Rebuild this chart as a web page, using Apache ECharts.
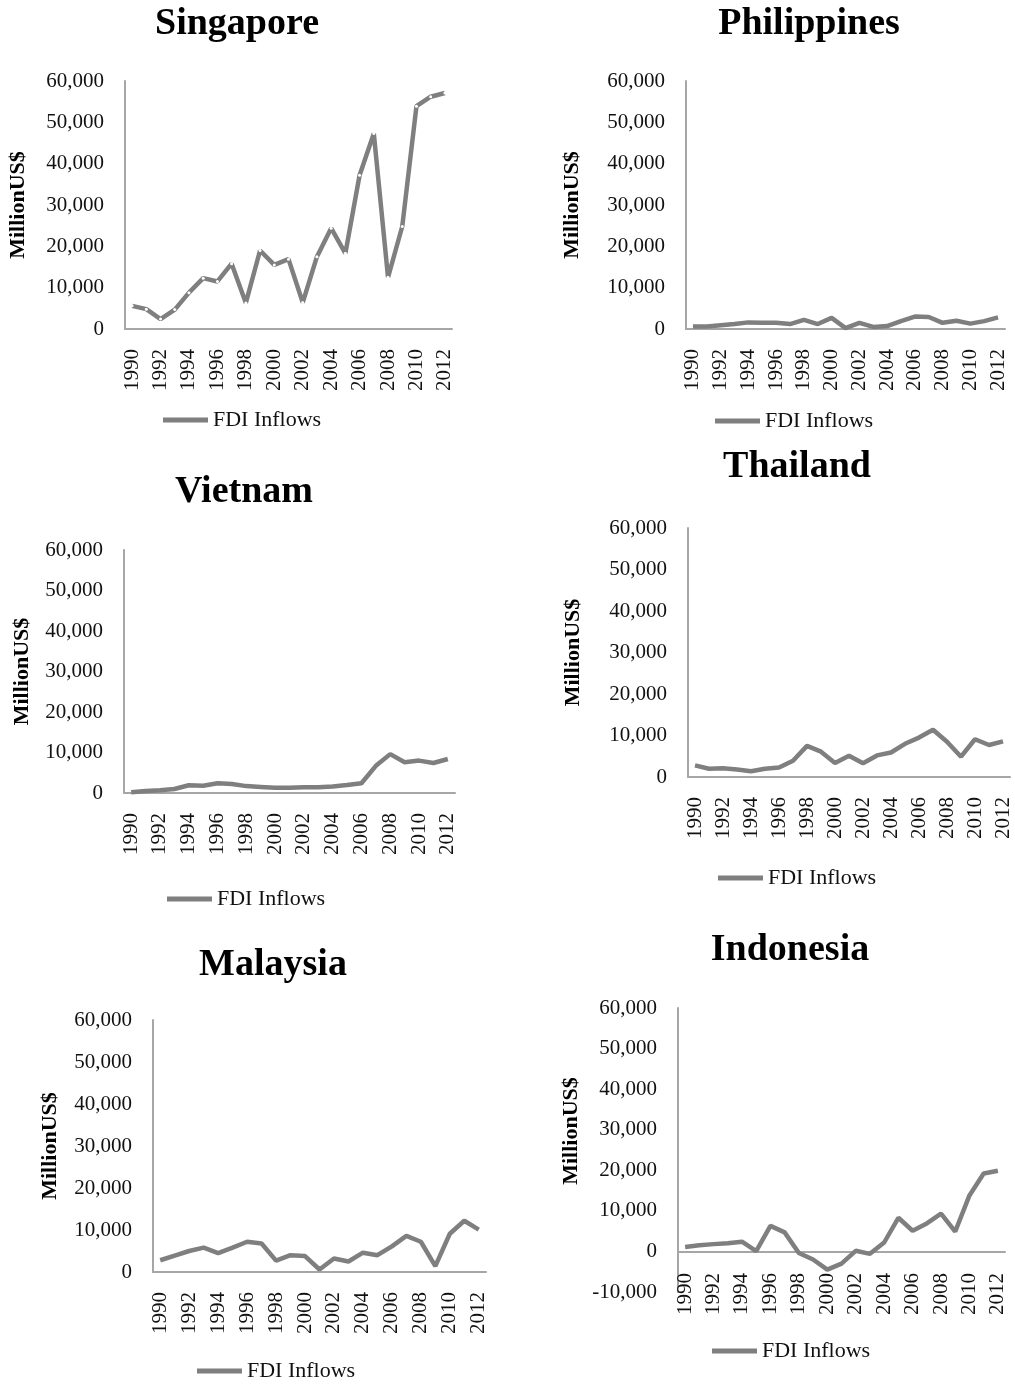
<!DOCTYPE html>
<html>
<head>
<meta charset="utf-8">
<script src="https://cdn.jsdelivr.net/npm/echarts@6/dist/echarts.min.js"></script>
<style>
  html, body { margin: 0; padding: 0; background: #fff; }
  #chart { width: 1015px; height: 1386px; }
</style>
</head>
<body>
<div id="chart"></div>
<script>
  // data (million US$)
  const years = ['1990', '1991', '1992', '1993', '1994', '1995', '1996', '1997', '1998', '1999', '2000', '2001',
    '2002', '2003', '2004', '2005', '2006', '2007', '2008', '2009', '2010', '2011', '2012']
  const countries = ['Singapore', 'Philippines', 'Vietnam', 'Thailand', 'Malaysia', 'Indonesia']
  const singapore = [5600, 4800, 2400, 4700, 8800, 12300, 11500, 15800, 6300, 19000, 15500, 16900,
    6400, 17500, 24400, 18300, 37200, 47300, 12500, 24800, 53900, 56200, 57100]
  const philippines = [600, 600, 900, 1200, 1600, 1500, 1500, 1200, 2200, 1200, 2700, 200,
    1500, 500, 700, 1900, 3000, 2900, 1500, 2000, 1300, 1900, 2800]
  const vietnam = [200, 500, 700, 1000, 1900, 1800, 2400, 2200, 1700, 1500, 1300, 1300,
    1400, 1450, 1600, 1950, 2400, 6700, 9600, 7600, 8000, 7400, 8400]
  const thailand = [2800, 2000, 2100, 1800, 1400, 2000, 2300, 3900, 7500, 6100, 3400, 5100,
    3300, 5200, 5900, 8000, 9500, 11400, 8500, 4900, 9100, 7700, 8600]
  const malaysia = [2800, 3900, 5000, 5800, 4500, 5800, 7200, 6800, 2700, 4000, 3800, 600,
    3200, 2500, 4600, 4000, 6100, 8600, 7200, 1400, 9100, 12200, 10100]
  const indonesia = [1100, 1500, 1800, 2000, 2400, 100, 6300, 4700, -400, -2000, -4500, -3000,
    150, -600, 2200, 8300, 5100, 6900, 9300, 4900, 13800, 19200, 19900]
  const seriesValues = [singapore, philippines, vietnam, thailand, malaysia, indonesia]
  const yMin = [0, 0, 0, 0, 0, -10000]
  const yMax = 60000
  const yStep = 10000
  const seriesName = 'FDI Inflows'
  const axisTitle = 'MillionUS$'

  // layout of each panel, in px
  const grids = [
    { left: 125, top: 81, width: 327, height: 248 },
    { left: 686, top: 81, width: 319, height: 248 },
    { left: 124, top: 550, width: 331, height: 243 },
    { left: 688, top: 528, width: 322, height: 249 },
    { left: 153, top: 1020, width: 333, height: 252 },
    { left: 678, top: 1008, width: 327, height: 284 }
  ]
  const titlePos = [[237, 5], [809, 5], [244, 473], [797, 448], [273, 946], [790, 931]]
  const legendPos = [[163, 409], [715, 410], [167, 888], [718, 867], [197, 1360], [712, 1340]]
  const nameGaps = [96, 103, 91, 104, 92, 96]

  const font = '"Liberation Serif", "Times New Roman", serif'
  const lineColor = '#7f7f7f'
  const axisColor = '#a6a6a6'

  const chart = echarts.init(document.getElementById('chart'), null, { renderer: 'canvas' })

  const title = countries.map((c, i) => ({
    text: c,
    left: titlePos[i][0],
    top: titlePos[i][1],
    padding: 0,
    textAlign: 'center',
    textStyle: { fontFamily: font, fontSize: 38, fontWeight: 'bold', color: '#000' }
  }))

  const legend = countries.map((c, i) => ({
    data: [seriesName],
    left: legendPos[i][0],
    top: legendPos[i][1],
    padding: 0,
    icon: 'rect',
    itemWidth: 45,
    itemHeight: 5,
    itemStyle: { color: lineColor },
    selectedMode: false,
    textStyle: { fontFamily: font, fontSize: 22, color: '#111' }
  }))

  const grid = grids.map(g => Object.assign({ containLabel: false }, g))

  const xAxis = countries.map((c, i) => ({
    type: 'category',
    gridIndex: i,
    data: years,
    boundaryGap: true,
    axisLine: { show: i !== 5, onZero: false, lineStyle: { color: axisColor, width: 2 } },
    axisTick: { show: false },
    axisLabel: {
      interval: 1,
      rotate: 90,
      margin: i === 5 ? -19 : 20,
      fontFamily: font,
      fontSize: 21,
      color: '#111'
    }
  }))
  // zero line for Indonesia
  xAxis.push({
    type: 'category',
    gridIndex: 5,
    data: years,
    axisLine: { show: true, onZero: true, lineStyle: { color: axisColor, width: 2 } },
    axisTick: { show: false },
    axisLabel: { show: false }
  })

  const yAxis = countries.map((c, i) => ({
    type: 'value',
    gridIndex: i,
    min: yMin[i],
    max: yMax,
    interval: yStep,
    name: axisTitle,
    nameLocation: 'middle',
    nameGap: nameGaps[i],
    nameRotate: 90,
    nameTextStyle: {
      fontFamily: font,
      fontSize: 22,
      fontWeight: 'bold',
      color: '#000',
      padding: i === 5 ? [0, 0, 0, 38] : 0
    },
    axisLine: { show: true, lineStyle: { color: axisColor, width: 2 } },
    axisTick: { show: false },
    splitLine: { show: false },
    axisLabel: { margin: 21, fontFamily: font, fontSize: 21, color: '#111' }
  }))

  const series = seriesValues.map((vals, i) => ({
    name: seriesName,
    type: 'line',
    xAxisIndex: i,
    yAxisIndex: i,
    data: vals,
    symbol: i === 0 ? 'circle' : 'none',
    symbolSize: 3,
    showAllSymbol: true,
    itemStyle: { color: i === 0 ? '#ffffff' : lineColor, borderWidth: 0 },
    lineStyle: { color: lineColor, width: 4.5 },
    animation: false
  }))

  chart.setOption({
    animation: false,
    textStyle: { fontFamily: font },
    title,
    legend,
    grid,
    xAxis,
    yAxis,
    series
  })
</script>
</body>
</html>
